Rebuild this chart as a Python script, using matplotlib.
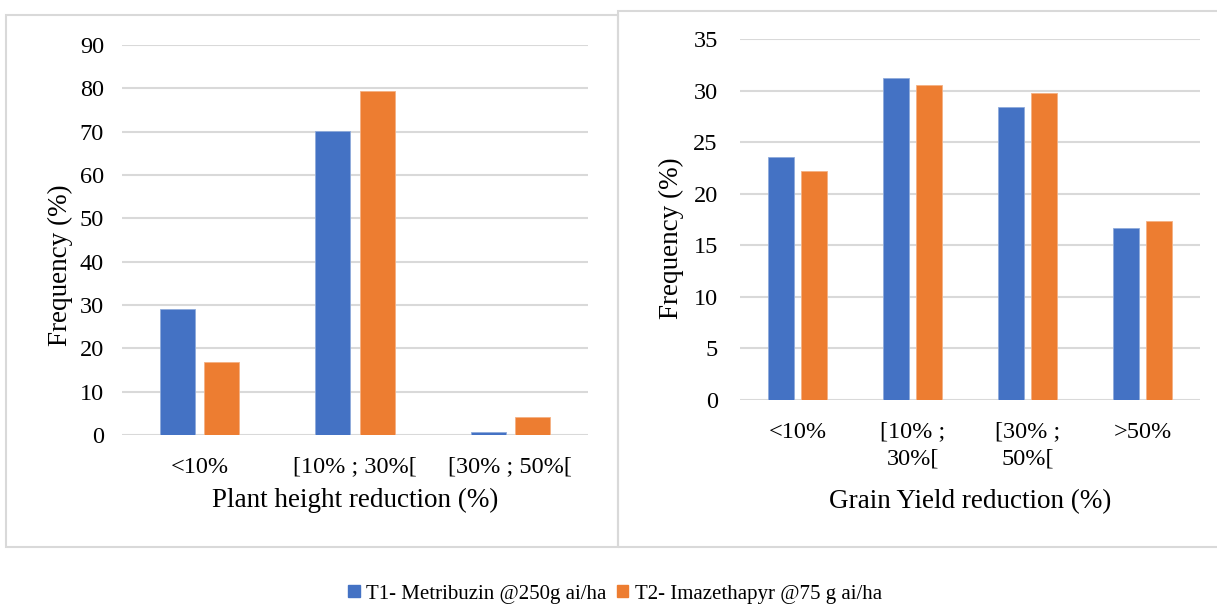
import matplotlib

matplotlib.use("Agg")
import matplotlib.pyplot as plt
import numpy as np
from matplotlib.patches import Patch, Rectangle

plt.rcParams["font.family"] = ["Liberation Serif", "DejaVu Serif"]

# Plant height reduction classes
height_classes = ["<10%", "[10% ; 30%[", "[30% ; 50%["]
height_t1 = [29.1, 70.1, 0.7]
height_t2 = [16.8, 79.3, 4.2]

# Grain yield reduction classes
yield_classes = ["<10%", "[10% ;\n30%[", "[30% ;\n50%[", ">50%"]
yield_t1 = [23.6, 31.2, 28.4, 16.7]
yield_t2 = [22.2, 30.5, 29.8, 17.4]

series_names = ["T1- Metribuzin @250g ai/ha", "T2- Imazethapyr @75 g ai/ha"]

BLUE = "#4472C4"
ORANGE = "#ED7D31"
GRID = "#d9d9d9"
W, H = 1217, 606
TICK_SIZE = 17.5
LABEL_SIZE = 19.5


def px_box(left, top, right, bottom):
    """Convert a pixel box (origin top-left) into figure fractions."""
    return [left / W, 1 - bottom / H, (right - left) / W, (bottom - top) / H]


def draw_panel(ax, classes, t1, t2, ymax, ystep, tick_pad, xlabel, xlabel_y, ylabel_xy):
    x = np.arange(len(classes))
    width = 0.225
    offset = 0.142
    ax.bar(x - offset, t1, width, color=BLUE, edgecolor="#8eaadb", linewidth=0.6, zorder=3)
    ax.bar(x + offset, t2, width, color=ORANGE, edgecolor="#f4b183", linewidth=0.6, zorder=3)
    ax.set_xlim(-0.5, len(classes) - 0.5)
    ax.set_ylim(0, ymax)
    ax.set_yticks(np.arange(0, ymax + 0.1, ystep))
    ax.set_xticks(x)
    ax.set_xticklabels(classes, linespacing=1.4)
    ax.tick_params(axis="y", length=0, pad=tick_pad, labelsize=TICK_SIZE)
    ax.tick_params(axis="x", length=0, pad=15.5, labelsize=TICK_SIZE)
    for spine in ax.spines.values():
        spine.set_visible(False)
    ax.yaxis.grid(True, color=GRID, linewidth=1.5, zorder=0)
    ax.set_axisbelow(True)
    ax.set_xlabel(xlabel, fontsize=LABEL_SIZE, va="center")
    ax.xaxis.set_label_coords(0.5, xlabel_y)
    ax.set_ylabel("Frequency (%)", fontsize=LABEL_SIZE, va="center")
    ax.yaxis.set_label_coords(*ylabel_xy)


fig = plt.figure(figsize=(W / 100, H / 100), dpi=100)

# Panel frames
for box in (px_box(6, 15, 618, 547), px_box(618, 10.5, 1230, 547)):
    fig.patches.append(
        Rectangle((box[0], box[1]), box[2], box[3], transform=fig.transFigure,
                  fill=False, edgecolor=GRID, linewidth=1.5)
    )

ax_left = fig.add_axes(px_box(122, 45, 588, 435))
draw_panel(ax_left, height_classes, height_t1, height_t2, 90, 10, 13,
           "Plant height reduction (%)", -0.167, (-0.133, 0.436))

ax_right = fig.add_axes(px_box(740, 39, 1200, 400))
draw_panel(ax_right, yield_classes, yield_t1, yield_t2, 35, 5, 16,
           "Grain Yield reduction (%)", -0.282, (-0.149, 0.449))

handles = [Patch(color=BLUE), Patch(color=ORANGE)]
fig.legend(handles, series_names, loc="center", bbox_to_anchor=(615 / W, 1 - 594 / H),
           ncol=2, frameon=False, fontsize=15, handlelength=0.55, handleheight=0.55,
           handletextpad=0.3, columnspacing=0.5)

fig.savefig("out.png", dpi=100)
